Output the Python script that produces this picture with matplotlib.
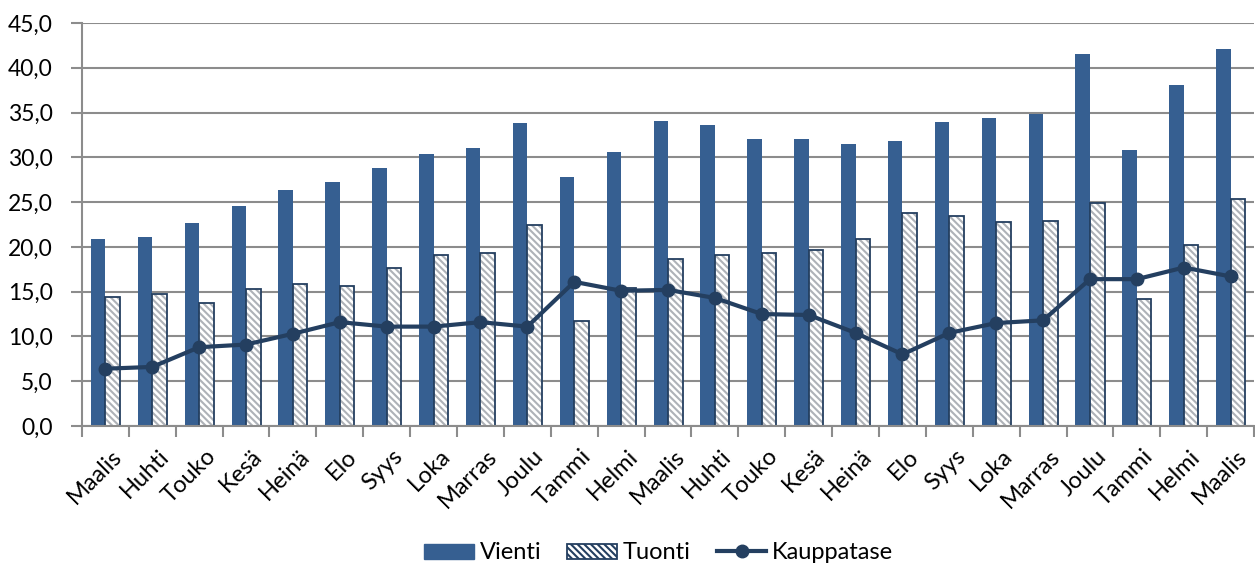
import matplotlib
matplotlib.use("Agg")
import matplotlib.pyplot as plt
import numpy as np
from matplotlib.patches import Patch
from matplotlib.lines import Line2D

months = ["Maalis", "Huhti", "Touko", "Kesä", "Heinä", "Elo", "Syys", "Loka", "Marras",
          "Joulu", "Tammi", "Helmi", "Maalis", "Huhti", "Touko", "Kesä", "Heinä", "Elo",
          "Syys", "Loka", "Marras", "Joulu", "Tammi", "Helmi", "Maalis"]
vienti = [20.9, 21.1, 22.7, 24.6, 26.4, 27.3, 28.8, 30.4, 31.1, 33.8, 27.8, 30.6, 34.1,
          33.6, 32.0, 32.1, 31.5, 31.8, 34.0, 34.4, 34.8, 41.5, 30.8, 38.1, 42.1]
tuonti = [14.4, 14.7, 13.7, 15.3, 15.9, 15.6, 17.6, 19.1, 19.3, 22.4, 11.7, 15.4, 18.7,
          19.1, 19.3, 19.6, 20.9, 23.8, 23.5, 22.8, 22.9, 24.9, 14.2, 20.2, 25.4]
kauppatase = [6.4, 6.6, 8.8, 9.1, 10.3, 11.6, 11.1, 11.1, 11.6, 11.1, 16.1, 15.1, 15.2,
              14.3, 12.5, 12.4, 10.4, 8.0, 10.4, 11.5, 11.8, 16.4, 16.4, 17.7, 16.7]
yticks = [0, 5, 10, 15, 20, 25, 30, 35, 40, 45]

plt.rcParams['font.family'] = ['Lato', 'DejaVu Sans']
plt.rcParams['hatch.linewidth'] = 1.5

BLUE = '#365F91'
NAVY = '#243F60'
GRID = '#8C8C8C'
HATCH = '#AEB2B8'
FS = 17
HP = '\\' * 5

fig = plt.figure(figsize=(12.55, 5.7), dpi=100)
ax = fig.add_axes([0.0653, 0.2526, 0.934, 0.7070])

x = np.arange(len(months))
w = 0.31
ax.bar(x - w / 2, vienti, width=w, color=BLUE, zorder=2)
ax.bar(x + w / 2, tuonti, width=w, facecolor='white', edgecolor=HATCH,
       hatch=HP, linewidth=0, zorder=2)
ax.bar(x + w / 2, tuonti, width=w, facecolor='none', edgecolor=NAVY,
       linewidth=1.3, zorder=2.1)
ax.plot(x, kauppatase, color=NAVY, lw=3, marker='o', markersize=9, zorder=3)

ax.set_xlim(-0.5, len(months) - 0.5)
ax.set_ylim(0, 45)
ax.set_yticks(yticks)
ax.set_yticklabels([f"{v:.1f}".replace('.', ',') for v in yticks], fontsize=16.5)
ax.yaxis.grid(True, color=GRID, lw=1.5, zorder=0)
ax.set_axisbelow(True)

ax.set_xticks(x + 0.12)
ax.set_xticklabels(months, rotation=45, ha='right', va='top', rotation_mode='anchor',
                   fontsize=FS)
ax.tick_params(axis='x', length=0, pad=14)
ax.set_xticks(np.arange(-0.5, len(months), 1.0), minor=True)
ax.tick_params(axis='x', which='minor', length=8, width=1.5, color=GRID)
ax.tick_params(axis='y', length=8, width=1.5, color=GRID, pad=13)

for s in ['top', 'right']:
    ax.spines[s].set_visible(False)
for s in ['left', 'bottom']:
    ax.spines[s].set_color(GRID)
    ax.spines[s].set_linewidth(1.5)

plt.rcParams['hatch.color'] = HATCH
handles = [
    Patch(facecolor=BLUE, edgecolor=BLUE),
    Patch(facecolor='white', edgecolor=NAVY, hatch=HP, linewidth=1.3),
    Line2D([], [], color=NAVY, lw=3, marker='o', markersize=9),
]
fig.legend(handles, ["Vienti", "Tuonti", "Kauppatase"], loc='center',
           bbox_to_anchor=(0.525, 0.03), ncol=3, frameon=False, fontsize=FS,
           handlelength=2.1, handleheight=0.6, columnspacing=1.1, handletextpad=0.25)

fig.savefig("out.png", dpi=100)
